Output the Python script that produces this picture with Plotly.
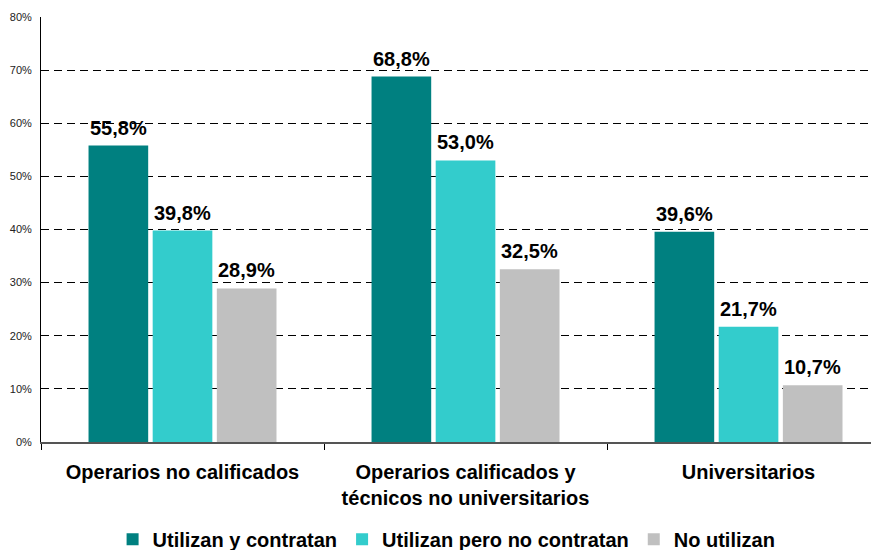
import plotly.graph_objects as go

categories = ["Operarios no calificados",
              "Operarios calificados y<br>técnicos no universitarios",
              "Universitarios"]
series_names = ["Utilizan y contratan", "Utilizan pero no contratan", "No utilizan"]
utilizan_y_contratan = [55.8, 68.8, 39.6]
utilizan_pero_no_contratan = [39.8, 53.0, 21.7]
no_utilizan = [28.9, 32.5, 10.7]
y_ticks = [0, 10, 20, 30, 40, 50, 60, 70, 80]
y_tick_labels = ["0%", "10%", "20%", "30%", "40%", "50%", "60%", "70%", "80%"]

colors = ["#008080", "#33CCCC", "#C0C0C0"]
FONT = "Liberation Sans, Arial, sans-serif"
BARGAP = 0.32

series = [utilizan_y_contratan, utilizan_pero_no_contratan, no_utilizan]

fig = go.Figure()
for name, vals, col in zip(series_names, series, colors):
    fig.add_trace(go.Bar(
        x=categories, y=vals, name=name, marker=dict(color=col, line=dict(width=0)),
    ))

# value labels above bars, placed at each bar's slot within its group
slot = (1 - BARGAP) / len(series)
for j, vals in enumerate(series):
    off = (j - (len(series) - 1) / 2) * slot
    for i, v in enumerate(vals):
        fig.add_annotation(
            x=i + off, y=v, xref="x", yref="y",
            text=f"{v:.1f}%".replace(".", ","),
            showarrow=False, yanchor="bottom", yshift=5,
            font=dict(family=FONT, size=20, color="black", weight="bold"),
        )

fig.update_layout(
    width=871, height=542,
    margin=dict(l=33, r=0, t=9, b=108, autoexpand=False),
    paper_bgcolor="white", plot_bgcolor="white",
    barmode="group", bargap=BARGAP, bargroupgap=0.07,
    showlegend=True,
    legend=dict(orientation="h", x=0.484, xanchor="center", y=-0.229, yanchor="middle",
                font=dict(family=FONT, size=20, color="black", weight="bold"),
                itemwidth=30, traceorder="normal"),
    font=dict(family=FONT),
)
fig.update_yaxes(range=[0, 80], tickvals=y_ticks, ticktext=y_tick_labels,
                 tickfont=dict(family=FONT, size=11, color="#222"),
                 showgrid=True, gridcolor="black", gridwidth=1, griddash="8px,5px",
                 zeroline=False, showline=True, linecolor="black", linewidth=1,
                 ticks="", ticklabelstandoff=6, automargin=False)
fig.update_xaxes(range=[-0.5, 2.461], tickson="boundaries", ticks="outside",
                 ticklen=6, tickcolor="black",
                 showline=True, linecolor="#555", linewidth=1.5,
                 tickfont=dict(family=FONT, size=20, color="black", weight="bold"),
                 ticklabelstandoff=11, automargin=False)

fig.write_html("out.html")
